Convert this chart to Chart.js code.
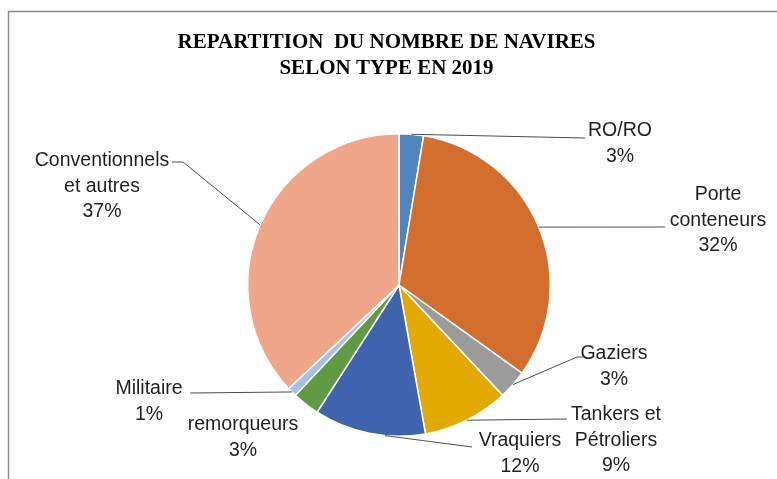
<!DOCTYPE html>
<html>
<head>
<meta charset="utf-8">
<script src="https://cdn.jsdelivr.net/npm/chart.js@4"></script>
<style>
  html, body { margin: 0; padding: 0; background: #fff; }
  canvas { display: block; }
</style>
</head>
<body>
<canvas id="pie" width="777" height="479"></canvas>
<script>
// chart data
const titleLines = ['REPARTITION  DU NOMBRE DE NAVIRES', 'SELON TYPE EN 2019'];
const categories = [
  ['RO/RO'],
  ['Porte', 'conteneurs'],
  ['Gaziers'],
  ['Tankers et', 'Pétroliers'],
  ['Vraquiers'],
  ['remorqueurs'],
  ['Militaire'],
  ['Conventionnels', 'et autres']
];
const shares = [2.6, 32.3, 3.1, 9.2, 11.9, 2.9, 1.0, 37.0];

const sliceColors = ['#4F86BE', '#D36E2C', '#9B9B9B', '#E2A900', '#3D64AC', '#5F9B42', '#A4C2E5', '#F0A789'];

// where each label sits, relative to the pie centre: text = first line centre,
// line = leader line points after the slice edge (empty = no leader line),
// at = where along the slice the leader line leaves the edge (0.5 = middle)
const labelPlacement = [
  { text: [221, -154], line: [[186, -147]], at: 0.5 },
  { text: [319, -90], line: [[266, -58]], at: 0.5 },
  { text: [215, 69], line: [[178, 72], [184, 72]], at: 0.5 },
  { text: [217, 130], line: [[168, 134]], at: 0.5 },
  { text: [121, 156], line: [[73, 162]], at: 0.36 },
  { text: [-156, 140], line: [], at: 0.5 },
  { text: [-250, 104], line: [[-209, 108]], at: 0.5 },
  { text: [-297, -124], line: [[-216, -123], [-227, -123]], at: 0.5 }
];

const labelFont = '19.5px "Liberation Sans", Arial, sans-serif';
const lineGap = 25.5;

const decorPlugin = {
  id: 'decor',
  beforeDraw(chart) {
    const ctx = chart.ctx;
    ctx.save();
    // outer frame, runs off the right and bottom edges
    ctx.strokeStyle = '#8a8a8a';
    ctx.lineWidth = 1.5;
    ctx.strokeRect(8.5, 11.5, 900, 600);
    // title
    ctx.fillStyle = '#000';
    ctx.font = 'bold 21px "Liberation Serif", "Times New Roman", serif';
    ctx.textAlign = 'center';
    ctx.textBaseline = 'middle';
    titleLines.forEach((t, i) => ctx.fillText(t, 386.5, 43 + i * 26));
    ctx.restore();
  },
  afterDraw(chart) {
    const ctx = chart.ctx;
    const arcs = chart.getDatasetMeta(0).data;
    ctx.save();
    arcs.forEach((arc, i) => {
      const p = arc.getProps(['x', 'y', 'startAngle', 'endAngle', 'outerRadius'], true);
      const place = labelPlacement[i];
      const a = p.startAngle + (p.endAngle - p.startAngle) * place.at;

      if (place.line.length) {
        ctx.strokeStyle = '#4d4d4d';
        ctx.lineWidth = 1;
        ctx.beginPath();
        ctx.moveTo(p.x + Math.cos(a) * p.outerRadius, p.y + Math.sin(a) * p.outerRadius);
        place.line.forEach(pt => ctx.lineTo(p.x + pt[0], p.y + pt[1]));
        ctx.stroke();
      }

      const lines = categories[i].concat([Math.round(shares[i]) + '%']);
      ctx.fillStyle = '#1f1f1f';
      ctx.font = labelFont;
      ctx.textAlign = 'center';
      ctx.textBaseline = 'middle';
      lines.forEach((t, k) => {
        ctx.fillText(t, p.x + place.text[0], p.y + place.text[1] + k * lineGap);
      });
    });
    ctx.restore();
  }
};

new Chart(document.getElementById('pie').getContext('2d'), {
  type: 'pie',
  data: {
    labels: categories.map(c => c.join(' ')),
    datasets: [{
      data: shares,
      backgroundColor: sliceColors,
      borderColor: '#ffffff',
      borderWidth: 1.5
    }]
  },
  options: {
    responsive: false,
    animation: false,
    devicePixelRatio: 1,
    layout: { padding: { left: 247, right: 226, top: 133, bottom: 42 } },
    plugins: {
      legend: { display: false },
      tooltip: { enabled: false },
      title: { display: false }
    }
  },
  plugins: [decorPlugin]
});
</script>
</body>
</html>
